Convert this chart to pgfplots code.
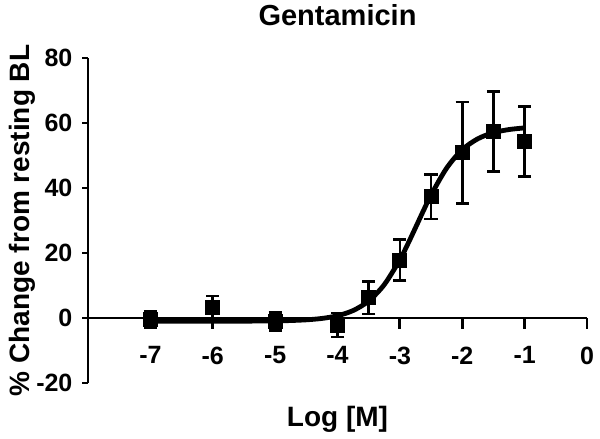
\documentclass[border=0pt]{standalone}
\usepackage{pgfplots}
\pgfplotsset{compat=1.18}
\usepackage{fontspec}
\setmainfont{Liberation Sans}
\begin{document}
\begin{tikzpicture}
\path[use as bounding box] (0,0) rectangle (300pt,219.5pt);
\begin{axis}[
  at={(44pt,28pt)}, anchor=south west,
  scale only axis, width=249.5pt, height=162.5pt,
  xmin=-8, xmax=0, ymin=-20, ymax=80,
  axis x line=middle, axis y line=left,
  axis line style={-, line width=1.4pt},
  hide obscured x ticks=false, hide obscured y ticks=false,
  xtick={-7,-6,-5,-4,-3,-2,-1,0},
  ytick={-20,0,20,40,60,80},
  tick align=outside,
  tick style={line width=1.4pt, black},
  xtick style={/pgfplots/major tick length=5.5pt},
  ytick style={/pgfplots/major tick length=3pt},
  /pgf/number format/assume math mode=true,
  tick label style={font=\bfseries\fontsize{12.5}{14}\selectfont},
  xticklabel style={yshift=-6.5pt},
  yticklabel style={xshift=0pt},
  title={Gentamicin},
  title style={font=\bfseries\fontsize{14.5}{16}\selectfont, at={(axis description cs:0.5,1)}, anchor=base, yshift=10pt},
  xlabel={Log [M]},
  xlabel style={font=\bfseries\fontsize{14}{16}\selectfont, at={(axis description cs:0.5,0)}, anchor=north, yshift=-8pt},
  ylabel={\% Change from resting BL},
  ylabel style={font=\bfseries\fontsize{14}{16}\selectfont, at={(axis description cs:-0.132,0.5)}, anchor=center, rotate=0},
  clip=false,
]
\addplot[black, line width=2.4pt, smooth] coordinates {
(-7,-1.0) (-6.5,-0.998) (-6,-0.993) (-5.5,-0.972) (-5,-0.890) (-4.75,-0.781)
(-4.5,-0.565) (-4.25,-0.137) (-4,0.697) (-3.75,2.293) (-3.5,5.23) (-3.25,10.27)
(-3,17.94) (-2.875,22.67) (-2.75,27.76) (-2.625,32.92) (-2.5,37.85) (-2.25,46.13)
(-2,51.78) (-1.75,55.15) (-1.5,57.01) (-1.25,57.98) (-1,58.49)
};
\addplot[black, only marks, mark=square*, mark size=3.5pt,
  error bars/.cd, y dir=both, y explicit,
  error mark=|,
  error bar style={line width=1.3pt, black},
  error mark options={line width=1.3pt, mark size=3.3pt, black}]
coordinates {
(-7,-0.4) +- (0,2.5)
(-6,3.3) +- (0,3.5)
(-5,-1.1) +- (0,2.7)
(-4,-2.2) +- (0,3.7)
(-3.5,6.2) +- (0,5.0)
(-3,17.8) +- (0,6.3)
(-2.5,37.3) +- (0,6.9)
(-2,50.9) +- (0,15.6)
(-1.5,57.3) +- (0,12.3)
(-1,54.3) +- (0,10.7)
};
\end{axis}
\end{tikzpicture}
\end{document}
